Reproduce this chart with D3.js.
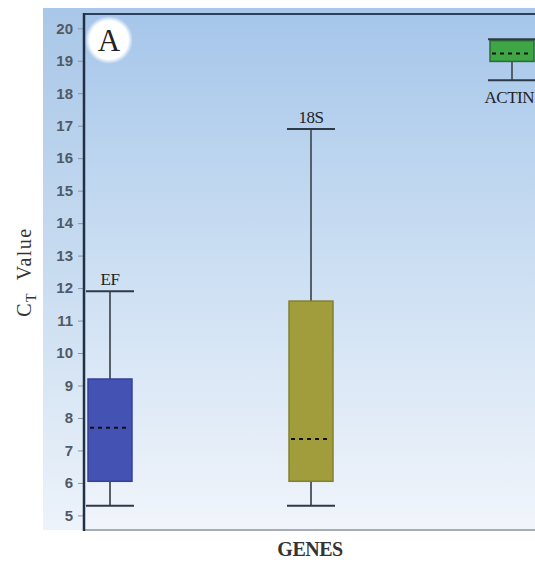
<!DOCTYPE html>
<html>
<head>
<meta charset="utf-8">
<script src="https://cdn.jsdelivr.net/npm/d3@7/dist/d3.min.js"></script>
<style>
  html, body { margin: 0; padding: 0; background: #ffffff; }
  svg { display: block; }
</style>
</head>
<body>
<svg id="chart" width="535" height="563"></svg>
<script>
// Gene reference Ct distributions (box: q1..q3, dashed median, whiskers min..max)
const genes   = ["EF", "18S", "ACTIN"];
const minVals = [5.3, 5.3, 18.4];
const q1Vals  = [6.05, 6.05, 18.98];
const medVals = [7.7, 7.35, 19.22];
const q3Vals  = [9.2, 11.6, 19.62];
const maxVals = [11.9, 16.9, 19.66];
const boxColors = ["#4452b4", "#a19d3c", "#3ea645"];
const boxEdges  = ["#35409a", "#83802c", "#2c6b33"];
const yTicks = [5, 6, 7, 8, 9, 10, 11, 12, 13, 14, 15, 16, 17, 18, 19, 20];

const W = 535, H = 563;
const plot = { left: 84, top: 14, bottom: 530 };

const svg = d3.select("#chart");
const defs = svg.append("defs");

const gPlot = defs.append("linearGradient").attr("id", "bgPlot")
  .attr("x1", 0).attr("y1", 0).attr("x2", 0).attr("y2", 1);
gPlot.append("stop").attr("offset", "0%").attr("stop-color", "#a6c6ea");
gPlot.append("stop").attr("offset", "45%").attr("stop-color", "#c9ddf2");
gPlot.append("stop").attr("offset", "100%").attr("stop-color", "#f1f5fb");

const gSide = defs.append("linearGradient").attr("id", "bgSide")
  .attr("x1", 0).attr("y1", 0).attr("x2", 0).attr("y2", 1);
gSide.append("stop").attr("offset", "0%").attr("stop-color", "#a9c7e8");
gSide.append("stop").attr("offset", "50%").attr("stop-color", "#c8dcf0");
gSide.append("stop").attr("offset", "100%").attr("stop-color", "#edf3fa");

const halo = defs.append("radialGradient").attr("id", "halo");
halo.append("stop").attr("offset", "0%").attr("stop-color", "#ffffff");
halo.append("stop").attr("offset", "80%").attr("stop-color", "#ffffff");
halo.append("stop").attr("offset", "100%").attr("stop-color", "#ffffff").attr("stop-opacity", 0);

// Outer panel and plotting area backgrounds
svg.append("rect").attr("x", 43).attr("y", 8).attr("width", W - 43).attr("height", plot.bottom - 8)
  .attr("fill", "url(#bgSide)");
svg.append("rect").attr("x", plot.left).attr("y", plot.top)
  .attr("width", W - plot.left).attr("height", plot.bottom - plot.top)
  .attr("fill", "url(#bgPlot)");

const y = d3.scaleLinear().domain([4.55, 20.44]).range([plot.bottom, plot.top]);
const x = d3.scalePoint().domain(genes).range([110, 512]);

// Y axis
const yAxis = svg.append("g").attr("transform", `translate(${plot.left},0)`)
  .call(d3.axisLeft(y).tickValues(yTicks).tickSize(6).tickPadding(5));
yAxis.select(".domain").remove();
yAxis.selectAll(".tick line").attr("stroke", "#8a96a6").attr("stroke-width", 1);
yAxis.selectAll(".tick text")
  .attr("font-family", "Liberation Sans, Arial, sans-serif")
  .attr("font-size", 15).attr("font-weight", "bold").attr("fill", "#505a66");

// Frame lines
svg.append("line").attr("x1", plot.left).attr("x2", W)
  .attr("y1", plot.top).attr("y2", plot.top)
  .attr("stroke", "#2b3f5c").attr("stroke-width", 2);
svg.append("line").attr("x1", plot.left).attr("x2", W)
  .attr("y1", plot.bottom).attr("y2", plot.bottom)
  .attr("stroke", "#8d959e").attr("stroke-width", 1.5);

// Boxes
const boxW = 44, capW = 48;
const data = genes.map((g, i) => ({
  gene: g, min: minVals[i], q1: q1Vals[i], med: medVals[i], q3: q3Vals[i], max: maxVals[i],
  fill: boxColors[i], edge: boxEdges[i]
}));

const gBox = svg.append("g");
const boxes = gBox.selectAll("g.box").data(data).join("g").attr("class", "box");

boxes.append("line") // whisker stem
  .attr("x1", d => x(d.gene)).attr("x2", d => x(d.gene))
  .attr("y1", d => y(d.max)).attr("y2", d => y(d.min))
  .attr("stroke", "#56606a").attr("stroke-width", 2);

boxes.append("rect")
  .attr("x", d => x(d.gene) - boxW / 2).attr("width", boxW)
  .attr("y", d => y(d.q3)).attr("height", d => y(d.q1) - y(d.q3))
  .attr("fill", d => d.fill).attr("stroke", d => d.edge).attr("stroke-width", 1.5);

boxes.append("line") // median
  .attr("x1", d => x(d.gene) - boxW / 2 + 2).attr("x2", d => x(d.gene) + boxW / 2 - 2)
  .attr("y1", d => y(d.med)).attr("y2", d => y(d.med))
  .attr("stroke", "#111").attr("stroke-width", 2).attr("stroke-dasharray", "4,4");

["max", "min"].forEach(k => {
  boxes.append("line")
    .attr("x1", d => x(d.gene) - capW / 2).attr("x2", d => x(d.gene) + capW / 2)
    .attr("y1", d => y(d[k])).attr("y2", d => y(d[k]))
    .attr("stroke", "#2d3a48").attr("stroke-width", 2);
});

// Gene labels: above the upper cap, or below the lower cap when the box sits near the top
const serif = "Liberation Serif, Times New Roman, serif";
boxes.append("text")
  .attr("x", d => d.max > 19 ? W - 1 : x(d.gene))
  .attr("y", d => d.max > 19 ? y(d.min) + 23 : y(d.max) - 6)
  .attr("text-anchor", d => d.max > 19 ? "end" : "middle")
  .attr("font-family", serif).attr("font-size", 17).attr("fill", "#222")
  .attr("letter-spacing", -0.5)
  .text(d => d.gene);

// Panel tag
svg.append("circle").attr("cx", 109).attr("cy", 40).attr("r", 24).attr("fill", "url(#halo)");
svg.append("line").attr("x1", plot.left).attr("x2", plot.left)
  .attr("y1", plot.top - 1).attr("y2", plot.bottom + 1)
  .attr("stroke", "#1f3048").attr("stroke-width", 2.5);
svg.append("text").attr("x", 109).attr("y", 51).attr("text-anchor", "middle")
  .attr("font-family", serif).attr("font-size", 31).attr("fill", "#222").text("A");

// Axis titles
const yt = svg.append("text")
  .attr("transform", "translate(31,272) rotate(-90)")
  .attr("text-anchor", "middle")
  .attr("font-family", serif).attr("font-size", 20).attr("fill", "#333")
  .attr("letter-spacing", 1.5);
yt.append("tspan").text("C");
yt.append("tspan").attr("font-size", 14).attr("dy", 5).text("T");
yt.append("tspan").attr("dy", -5).text("\u2002Value");

svg.append("text").attr("x", 310).attr("y", 556).attr("text-anchor", "middle")
  .attr("font-family", serif).attr("font-size", 20).attr("font-weight", "bold")
  .attr("fill", "#333").attr("letter-spacing", -0.5).text("GENES");
</script>
</body>
</html>
